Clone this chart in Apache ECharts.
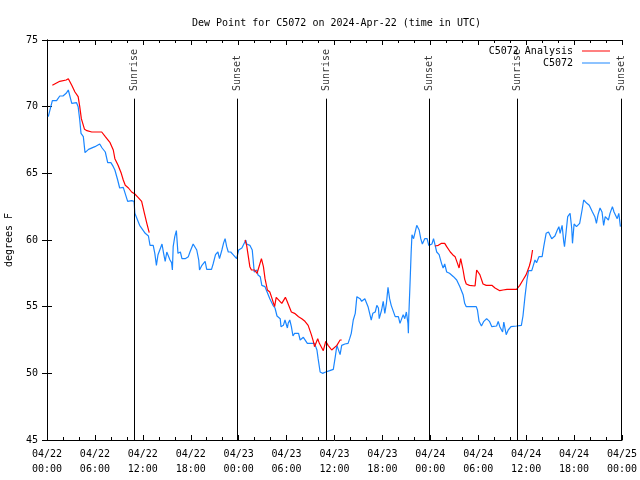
<!DOCTYPE html>
<html>
<head>
<meta charset="utf-8">
<script src="https://cdn.jsdelivr.net/npm/echarts@6/dist/echarts.min.js"></script>
<style>html,body{margin:0;padding:0;background:#fff}#c{width:640px;height:480px}</style>
</head>
<body>
<div id="c"></div>
<script>
// hours since 2024-04-22 00:00 UTC
const obsHours = [0.16,0.67,1.2,1.6,2.0,2.4,2.67,2.9,3.1,3.7,3.9,4.1,4.26,4.55,4.76,5.2,6.0,6.6,6.9,7.3,7.6,8.0,8.3,8.5,8.85,9.1,9.55,9.8,10.1,10.6,10.9,11.0,11.6,12.3,12.7,12.9,13.3,13.5,13.7,13.9,14.1,14.4,14.6,14.8,15.0,15.2,15.4,15.6,15.7,15.8,16.0,16.2,16.4,16.7,16.9,17.3,17.7,17.9,18.3,18.5,18.75,19.0,19.1,19.4,19.8,20.0,20.6,20.8,21.1,21.4,21.6,21.9,22.1,22.3,22.5,22.7,23.0,23.3,23.75,24.0,24.4,24.6,24.9,25.0,25.4,25.7,25.8,25.95,26.3,26.4,26.7,26.9,27.3,27.7,27.9,28.1,28.3,28.55,28.8,29.2,29.3,29.6,29.8,30.1,30.2,30.4,30.6,30.8,31.0,31.5,31.7,32.1,32.3,32.6,33.1,33.5,33.8,33.95,34.2,34.5,34.7,34.9,35.4,35.85,36.1,36.3,36.4,36.7,36.9,37.3,37.7,37.9,38.1,38.35,38.6,38.8,39.0,39.2,39.4,39.6,39.8,40.0,40.2,40.4,40.6,40.8,41.1,41.3,41.5,41.6,41.9,42.1,42.3,42.5,42.7,42.9,43.1,43.3,43.6,43.7,44.0,44.2,44.4,44.6,44.8,45.0,45.2,45.25,45.3,45.45,45.6,45.7,45.9,46.1,46.3,46.6,46.8,47.0,47.3,47.6,47.8,48.2,48.4,48.6,48.8,49.1,49.4,49.6,49.8,50.05,50.4,50.9,51.3,51.7,51.9,52.1,52.3,52.5,53.2,53.75,53.9,54.1,54.4,54.7,55.05,55.4,55.7,56.3,56.5,56.7,57.05,57.2,57.5,57.75,58.1,58.8,59.4,59.6,59.85,60.1,60.3,60.7,60.9,61.1,61.3,61.6,62.0,62.2,62.5,62.8,63.2,63.6,63.9,64.1,64.25,64.5,64.7,64.8,65.0,65.2,65.5,65.7,65.8,66.0,66.3,66.7,66.9,67.0,67.2,67.6,67.9,68.1,68.3,68.6,68.8,69.0,69.25,69.5,69.7,69.9,70.3,70.5,70.8,71.0,71.4,71.6,71.8];
const obsTemps = [69.25,70.45,70.45,70.8,70.8,71.0,71.25,71.2,70.25,70.3,70.0,69.0,68.0,67.75,66.55,66.8,67.0,67.2,66.9,66.6,65.8,65.8,65.5,65.25,64.5,63.9,63.95,63.9,62.9,62.95,62.9,62.0,61.1,60.5,60.3,59.6,59.6,59.0,58.1,58.9,59.0,59.7,59.0,58.4,59.1,59.2,58.5,58.3,57.75,59.5,60.25,60.7,59.0,59.1,58.6,58.6,58.75,59.1,59.7,59.6,59.25,58.5,57.75,58.1,58.4,57.8,57.8,58.2,58.9,59.1,58.6,59.25,59.75,60.1,59.5,59.1,59.1,58.9,58.6,59.25,59.4,59.25,60.0,59.7,59.6,59.25,58.6,57.6,57.75,57.4,57.25,56.6,56.5,55.9,55.6,55.5,55.1,54.9,54.3,54.1,53.5,53.6,54.0,53.4,53.75,54.0,53.5,52.8,53.0,53.0,52.5,52.7,52.7,52.25,52.25,52.25,51.75,51.1,50.1,50.0,49.9,50.1,50.2,50.3,51.25,52.1,52.0,51.4,52.1,52.2,52.25,52.6,53.0,54.0,54.5,55.75,55.9,55.6,55.4,55.5,55.6,55.5,55.0,54.5,54.0,54.5,54.6,55.1,54.9,54.1,54.75,55.4,54.5,55.25,56.45,55.6,55.1,55.25,54.25,54.1,54.25,53.75,53.9,54.4,54.1,54.6,53.75,53.0,54.25,56.6,59.1,60.4,60.1,60.1,61.1,60.75,60.1,59.7,60.1,60.1,59.6,59.7,60.1,60.0,59.1,58.9,58.25,57.9,58.2,57.6,57.5,57.25,57.0,56.5,56.6,55.9,55.25,55.0,55.0,55.0,54.75,53.9,53.55,53.9,54.1,53.9,53.5,53.55,53.9,53.5,53.1,53.85,52.9,53.25,53.5,53.55,53.6,54.3,55.75,57.0,57.7,57.7,58.1,58.5,58.3,58.75,58.75,59.5,60.5,60.6,60.1,60.3,60.75,61.0,60.5,61.1,59.9,59.5,60.6,61.75,62.0,60.9,59.75,61.2,61.0,61.25,61.3,62.25,63.0,62.75,62.6,62.75,62.1,61.75,61.25,61.9,62.4,62.1,61.1,61.75,61.5,62.0,62.5,62.1,61.6,62.0,61.0];

const anaHours = [0.67,1.6,2.4,2.67,3.1,3.5,3.9,4.1,4.3,4.7,5.0,5.6,6.1,6.85,7.3,7.9,8.3,8.5,8.9,9.3,9.55,9.8,10.2,10.6,11.0,11.4,11.85,12.2,12.5,12.8,18.0,24.8,25.0,25.4,25.6,26.0,26.3,26.5,26.85,27.1,27.3,27.6,27.9,28.1,28.5,28.7,28.9,29.4,29.6,29.85,30.0,30.4,30.6,31.0,31.5,31.9,32.3,32.7,32.9,33.1,33.35,33.5,33.9,34.1,34.6,34.9,35.2,35.65,35.85,36.3,36.7,36.9,42.0,48.6,49.0,49.4,49.8,50.05,50.5,50.8,51.1,51.4,51.6,51.8,52.1,52.3,52.5,52.9,53.6,53.8,54.2,54.6,55.0,55.7,56.1,56.7,57.1,57.6,58.2,58.8,59.2,59.6,60.0,60.4,60.6,60.8];
const anaTemps = [71.6,71.9,72.0,72.1,71.6,71.1,70.75,70.0,69.1,68.3,68.2,68.1,68.1,68.1,67.75,67.3,66.75,66.1,65.6,65.0,64.5,64.1,63.9,63.6,63.45,63.2,62.9,62.0,61.25,60.55,null,60.0,59.6,58.0,57.75,57.75,57.5,57.9,58.6,58.0,57.1,56.25,56.1,55.75,55.0,55.7,55.6,55.25,55.4,55.7,55.5,54.9,54.6,54.5,54.25,54.1,53.9,53.6,53.45,52.9,52.4,52.0,52.6,52.25,51.7,52.4,52.1,51.75,51.75,52.1,52.5,52.5,null,59.55,59.6,59.75,59.75,59.5,59.1,58.9,58.75,58.25,57.9,58.6,57.75,57.05,56.7,56.6,56.55,57.75,57.4,56.7,56.6,56.6,56.4,56.2,56.25,56.3,56.3,56.3,56.6,57.0,57.4,58.05,58.5,59.25];

const sunHours = [10.93, 23.83, 34.94, 47.87, 58.9, 71.92];
const sunLabels = ['Sunrise','Sunset','Sunrise','Sunset','Sunrise','Sunset'];

const tickDays = ['04/22','04/22','04/22','04/22','04/23','04/23','04/23','04/23','04/24','04/24','04/24','04/24','04/25'];
const tickTimes = ['00:00','06:00','12:00','18:00','00:00','06:00','12:00','18:00','00:00','06:00','12:00','18:00','00:00'];

const FONT = 'DejaVu Sans Mono';
const RED = '#ff0000';
const BLUE = '#1a86ff';

const obsData = obsHours.map((h, i) => [h, obsTemps[i]]);
const anaData = anaHours.map((h, i) => [h, anaTemps[i]]);

const chart = echarts.init(document.getElementById('c'), null, {renderer: 'canvas'});

const xBase = {
  type: 'value', min: 0, max: 72, interval: 6,
  axisLine: {show: true, lineStyle: {color: '#000', width: 1}},
  axisTick: {show: true, inside: true, length: 5, lineStyle: {color: '#000'}},
  minorTick: {show: true, splitNumber: 3, length: 3, lineStyle: {color: '#000'}},
  splitLine: {show: false}
};
const yBase = {
  type: 'value', min: 45, max: 75, interval: 5,
  axisLine: {show: true, lineStyle: {color: '#000', width: 1}},
  axisTick: {show: true, inside: true, length: 5, lineStyle: {color: '#000'}},
  splitLine: {show: false}
};

chart.setOption({
  animation: false,
  backgroundColor: '#fff',
  textStyle: {fontFamily: FONT},
  title: {
    text: 'Dew Point for C5072 on 2024-Apr-22 (time in UTC)',
    left: 187, top: 13,
    textStyle: {fontFamily: FONT, fontSize: 10, fontWeight: 'normal', color: '#000'}
  },
  legend: [
    {data: ['C5072 Analysis'], right: 30, top: 46, align: 'right', icon: 'rect', itemWidth: 28, itemHeight: 1,
     textStyle: {fontFamily: FONT, fontSize: 10, color: '#000', padding: [0, 4, 0, 0]}, padding: 0, selectedMode: false},
    {data: ['C5072'], right: 30, top: 58, align: 'right', icon: 'rect', itemWidth: 28, itemHeight: 1,
     textStyle: {fontFamily: FONT, fontSize: 10, color: '#000', padding: [0, 4, 0, 0]}, padding: 0, selectedMode: false}
  ],
  grid: {left: 47, right: 18, top: 40, bottom: 40, containLabel: false, outerBoundsMode: 'none'},
  xAxis: [
    Object.assign({}, xBase, {
      position: 'bottom',
      axisLabel: {
        show: true, margin: 7, color: '#000', fontFamily: FONT, fontSize: 10, lineHeight: 15,
        formatter: v => { const i = Math.round(v / 6); return tickDays[i] + '\n' + tickTimes[i]; }
      }
    }),
    Object.assign({}, xBase, {position: 'top', axisLabel: {show: false}})
  ],
  yAxis: [
    Object.assign({}, yBase, {
      position: 'left',
      name: 'degrees F', nameLocation: 'middle', nameGap: 33, nameRotate: 90,
      nameTextStyle: {fontFamily: FONT, fontSize: 10, color: '#000'},
      axisLabel: {show: true, margin: 9, color: '#000', fontFamily: FONT, fontSize: 10}
    }),
    Object.assign({}, yBase, {position: 'right', axisLabel: {show: false}})
  ],
  series: [
    {
      name: 'sun', type: 'scatter', xAxisIndex: 0, yAxisIndex: 0,
      symbolSize: 0, silent: true,
      data: sunHours.map((t, i) => ({value: [t, 71.1], name: sunLabels[i]})),
      label: {show: true, formatter: '{b}', rotate: 90, position: 'inside', align: 'left', verticalAlign: 'middle',
              offset: [1, 0], fontFamily: FONT, fontSize: 10, color: '#000'},
      markLine: {
        silent: true, symbol: ['none', 'none'], animation: false,
        lineStyle: {color: '#000', width: 1, type: 'solid'},
        label: {show: false},
        data: sunHours.map(t => [{coord: [t, 45]}, {coord: [t, 70.6]}])
      },
      z: 1
    },
    {
      name: 'C5072 Analysis', type: 'line', data: anaData, showSymbol: false, symbol: 'none',
      connectNulls: false, lineStyle: {color: RED, width: 1.2}, itemStyle: {color: RED}, z: 3
    },
    {
      name: 'C5072', type: 'line', data: obsData, showSymbol: false, symbol: 'none',
      lineStyle: {color: BLUE, width: 1.2}, itemStyle: {color: BLUE}, z: 2
    }
  ]
});
</script>
</body>
</html>
